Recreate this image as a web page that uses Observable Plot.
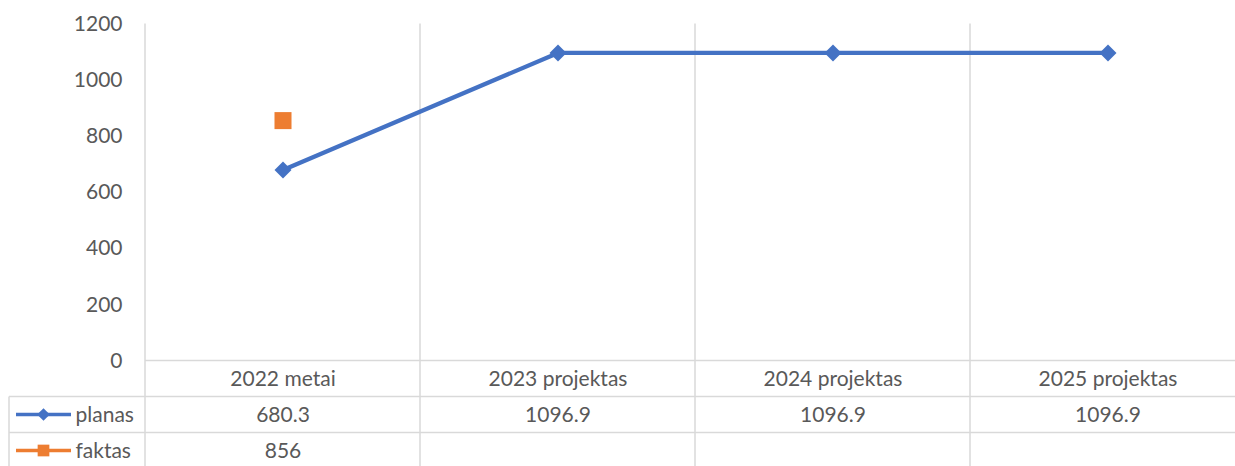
<!DOCTYPE html>
<html>
<head>
<meta charset="utf-8">
<script src="https://cdn.jsdelivr.net/npm/d3@7"></script>
<script src="https://cdn.jsdelivr.net/npm/@observablehq/plot@0.6"></script>
<style>
html, body { margin: 0; padding: 0; background: #fff; }
#chart svg { display: block; }
</style>
</head>
<body>
<div id="chart"></div>
<script>
// ---- data ----
const categories = ["2022 metai", "2023 projektas", "2024 projektas", "2025 projektas"];
const planas = [680.3, 1096.9, 1096.9, 1096.9];
const faktas = [856, null, null, null];
const seriesNames = ["planas", "faktas"];
const yTicks = [0, 200, 400, 600, 800, 1000, 1200];

// ---- styles ----
const BLUE = "#4472C4", ORANGE = "#ED7D31", GRID = "#d9d9d9", TEXT = "#595959";
const seriesColors = [BLUE, ORANGE];
const W = 1235, H = 466;
const rowH = 36, tableLeft = 9;

const planasData = categories.map((c, i) => ({cat: c, value: planas[i]}));
const faktasData = categories.map((c, i) => ({cat: c, value: faktas[i]})).filter(d => d.value != null);

const diamond = {
  draw(ctx, size) {
    const h = Math.sqrt(size / 2);
    ctx.moveTo(0, -h); ctx.lineTo(h, 0); ctx.lineTo(0, h); ctx.lineTo(-h, 0); ctx.closePath();
  }
};

function tableGrid(index, scales, values, dims) {
  const x = scales.x, bw = x.bandwidth();
  const bottom = dims.height - dims.marginBottom;
  const right = dims.width;
  const g = d3.create("svg:g").attr("stroke", GRID).attr("stroke-width", 1.5).attr("fill", "none");
  categories.forEach(c => {
    g.append("line").attr("x1", x(c)).attr("x2", x(c)).attr("y1", dims.marginTop).attr("y2", dims.height);
  });
  const last = x(categories[categories.length - 1]) + bw;
  g.append("line").attr("x1", last).attr("x2", last).attr("y1", dims.marginTop).attr("y2", dims.height);
  g.append("line").attr("x1", x(categories[0])).attr("x2", right).attr("y1", bottom).attr("y2", bottom);
  seriesNames.forEach((s, i) => {
    const yy = bottom + rowH * (i + 1);
    g.append("line").attr("x1", tableLeft).attr("x2", right).attr("y1", yy).attr("y2", yy);
  });
  g.append("line").attr("x1", tableLeft).attr("x2", tableLeft).attr("y1", bottom + rowH).attr("y2", dims.height);
  return g.node();
}

function tableKeys(index, scales, values, dims) {
  const bottom = dims.height - dims.marginBottom;
  const g = d3.create("svg:g");
  seriesNames.forEach((s, i) => {
    const cy = bottom + rowH * (i + 1.5);
    const color = seriesColors[i];
    g.append("line").attr("x1", 16).attr("x2", 71).attr("y1", cy).attr("y2", cy)
      .attr("stroke", color).attr("stroke-width", 3.7);
    const sym = i === 0 ? d3.symbol(diamond, 80) : d3.symbol(d3.symbolSquare, 137);
    g.append("path").attr("transform", `translate(43.5,${cy})`).attr("d", sym()).attr("fill", color);
  });
  return g.node();
}

const chart = Plot.plot({
  width: W,
  height: H,
  marginLeft: 145,
  marginRight: 0,
  marginTop: 23.5,
  marginBottom: 105.5,
  style: {fontFamily: "Lato, sans-serif", fontSize: "21px", color: TEXT, background: "#fff"},
  x: {type: "band", domain: categories, range: [145, 1245], padding: 0, axis: null},
  y: {domain: [0, 1200], axis: null},
  marks: [
    tableGrid,
    Plot.axisY({ticks: yTicks, tickFormat: d => String(d), tickSize: 0, tickPadding: 23, label: null, fill: TEXT}),
    Plot.line(planasData, {x: "cat", y: "value", stroke: BLUE, strokeWidth: 4.3}),
    Plot.dot(planasData, {x: "cat", y: "value", symbol: diamond, r: 6.8, fill: BLUE}),
    Plot.dot(faktasData, {x: "cat", y: "value", symbol: "square", r: 9.6, fill: ORANGE}),
    Plot.text(categories, {x: d => d, text: d => d, frameAnchor: "bottom", lineAnchor: "middle", dy: rowH / 2, fill: TEXT}),
    Plot.text(planasData, {x: "cat", text: d => String(d.value), frameAnchor: "bottom", lineAnchor: "middle", dy: rowH * 1.5, fill: TEXT}),
    Plot.text(faktasData, {x: "cat", text: d => String(d.value), frameAnchor: "bottom", lineAnchor: "middle", dy: rowH * 2.5, fill: TEXT}),
    ...seriesNames.map((s, i) => Plot.text([s], {text: d => d, frameAnchor: "bottom-left", lineAnchor: "middle", textAnchor: "start", dx: -70, dy: rowH * (i + 1.5), fill: TEXT})),
    tableKeys
  ]
});
document.getElementById("chart").appendChild(chart);
</script>
</body>
</html>
